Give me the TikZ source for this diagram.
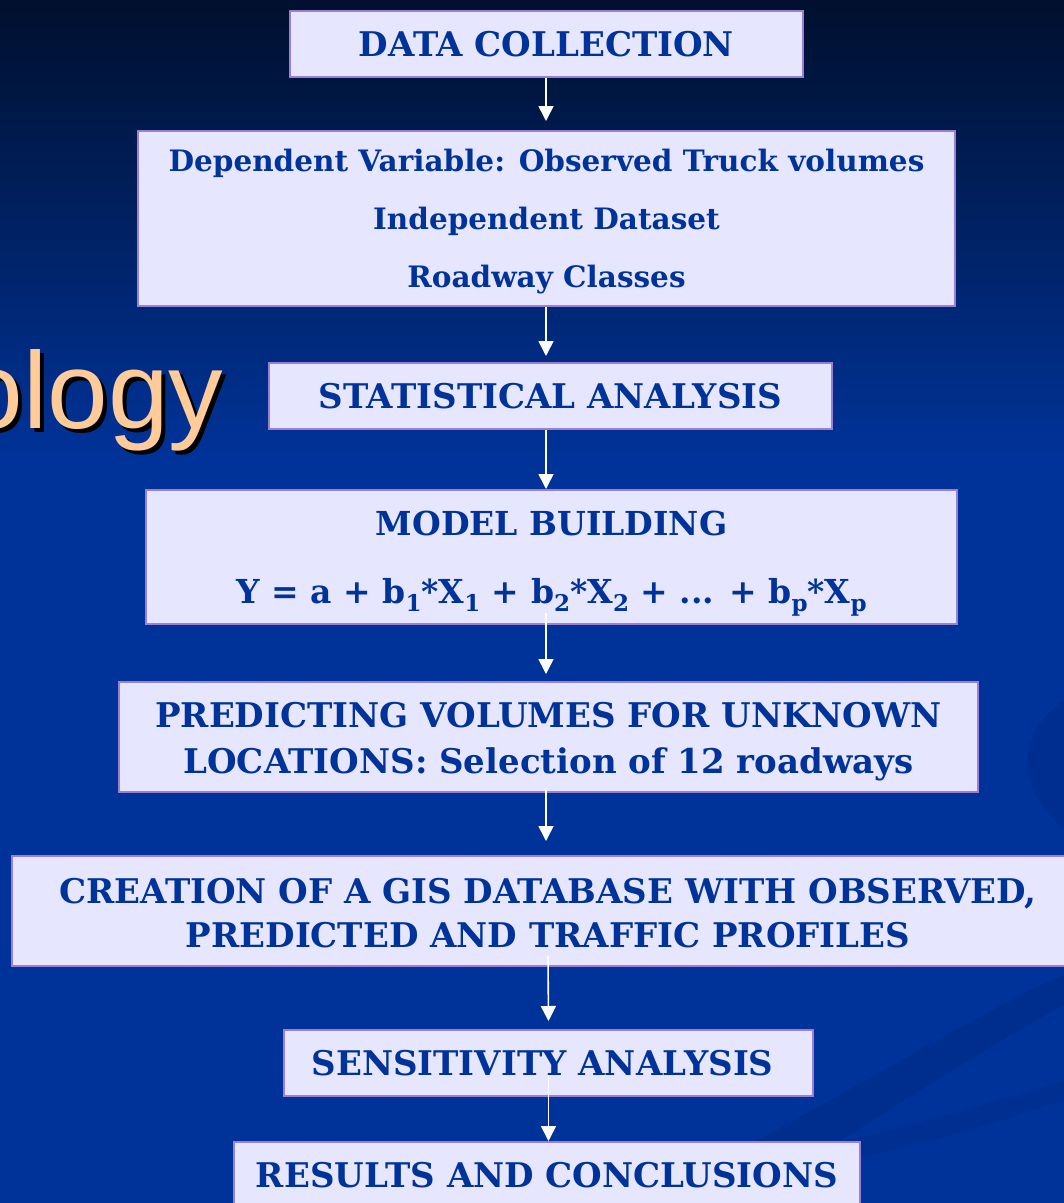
\documentclass[tikz,border=0pt]{standalone}
\usepackage{fontspec}
\setmainfont{DejaVu Serif}
\newfontfamily\headfont{Liberation Sans}
\usetikzlibrary{arrows.meta,positioning,calc}

\definecolor{slideblue}{HTML}{003399}
\definecolor{slidetop}{HTML}{00102E}
\definecolor{swoosh}{HTML}{002B88}
\definecolor{boxfill}{HTML}{E6E6FF}
\definecolor{boxline}{HTML}{9B7FD4}
\definecolor{boxtext}{HTML}{003399}
\definecolor{headorange}{HTML}{FFCC99}

\newcommand{\stagefont}[2]{\fontsize{#1}{#2}\selectfont\bfseries}
\newcommand{\lowidx}[1]{\raisebox{-0.5ex}{\fontsize{23}{23}\selectfont #1}}
\newcommand{\toplift}[1]{\rule{0pt}{#1pt}}

\tikzset{
  stage/.style={draw=boxline,line width=2pt,fill=boxfill,text=boxtext,align=center,inner sep=0pt},
  flow/.style={draw=white,line width=1.6pt,-{Triangle[width=15pt,length=15pt]}},
}

\begin{document}
\begin{tikzpicture}[x=1pt,y=-1pt]
  \useasboundingbox (0,0) rectangle (1064,1203);
  \clip (0,0) rectangle (1064,1203);
  % background
  \shade[top color=slidetop,bottom color=slideblue] (0,0) rectangle (1064,460);
  \fill[slideblue] (0,459) rectangle (1064,1203);
  \fill[swoosh,opacity=0.5] (1064,700) .. controls (1010,740) and (1020,790) .. (1064,830) -- cycle;
  \fill[swoosh,opacity=0.6] (640,1203) .. controls (820,1110) and (1000,1000) .. (1064,975)
        -- (1064,1005) .. controls (980,1050) and (860,1130) .. (740,1203) -- cycle;
  \fill[swoosh,opacity=0.4] (800,1150) .. controls (900,1130) and (1000,1100) .. (1064,1080)
        -- (1064,1100) .. controls (980,1130) and (880,1155) .. (820,1165) -- cycle;

  % title fragment
  \node[anchor=base east,font=\headfont\fontsize{109}{109}\selectfont,text=black] (titleshadow) at (231,432) {ology};
  \node[anchor=base east,font=\headfont\fontsize{109}{109}\selectfont,text=headorange] (title) at (227,428) {ology};

  % stages
  \coordinate (axis) at (546,0);
  \node[stage,minimum width=513,minimum height=66,font=\stagefont{34}{40}] (dcol) at (546.5,44) {DATA COLLECTION};
  \node[stage,minimum width=817,minimum height=175,font=\stagefont{29.5}{58}] (depvar) at (546.5,218.5)
    {\toplift{28.5}Dependent Variable: Observed Truck volumes\\Independent Dataset\\Roadway Classes};
  \node[stage,minimum width=563,minimum height=66,font=\stagefont{34}{40}] (stat) at (550.5,396) {STATISTICAL ANALYSIS};
  \node[stage,minimum width=811,minimum height=134,font=\stagefont{33}{68}] (model) at (551.5,557)
    {\toplift{38}MODEL BUILDING\\Y = a + b\lowidx{1}*X\lowidx{1} + b\lowidx{2}*X\lowidx{2} + ... + b\lowidx{p}*X\lowidx{p}};
  \node[stage,minimum width=859,minimum height=110,font=\stagefont{34}{46}] (predict) at (548.5,737)
    {\toplift{35}PREDICTING VOLUMES FOR UNKNOWN\\LOCATIONS: Selection of 12 roadways};
  \node[stage,minimum width=1072,minimum height=110,font=\stagefont{34}{44}] (gisdb) at (548,911)
    {\toplift{29}CREATION OF A GIS DATABASE WITH OBSERVED,\\PREDICTED AND TRAFFIC PROFILES};
  \node[stage,minimum width=529,minimum height=66,font=\stagefont{34}{40}] (sens) at (548.5,1063) {SENSITIVITY ANALYSIS~};
  \node[stage,minimum width=626,minimum height=66,font=\stagefont{34}{40}] (results) at (547,1175) {RESULTS AND CONCLUSIONS};

  % connectors
  \draw[flow] (dcol.south -| axis) -- ([yshift=9pt]depvar.north -| axis);
  \draw[flow] (depvar.south -| axis) -- ([yshift=6pt]stat.north -| axis);
  \draw[flow] (stat.south -| axis) -- (model.north -| axis);
  \draw[flow] ([yshift=12pt]model.south -| axis) -- ([yshift=7pt]predict.north -| axis);
  \draw[flow] ([yshift=4pt]predict.south -| axis) -- ([yshift=14pt]gisdb.north -| axis);
  \draw[flow] ([yshift=11pt]gisdb.south) -- ([yshift=8pt]sens.north);
  \draw[flow] ([yshift=21pt]sens.south) -- (results.north -| sens.south);
\end{tikzpicture}
\end{document}
